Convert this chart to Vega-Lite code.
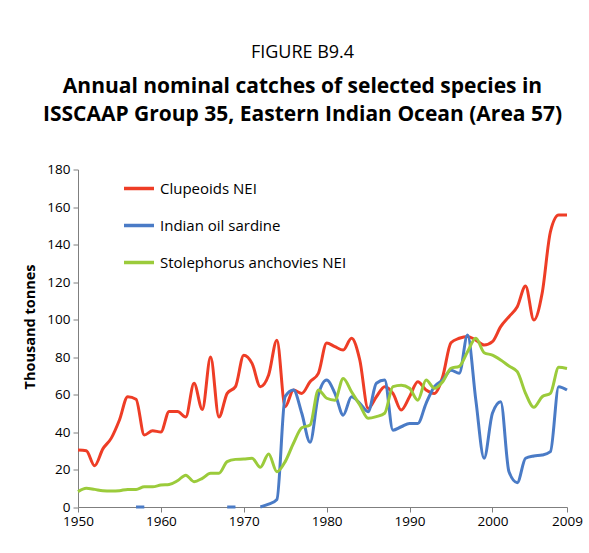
{
  "$schema": "https://vega.github.io/schema/vega-lite/v6.json",
  "width": 489,
  "height": 337.5,
  "autosize": {"type": "none"},
  "padding": {"left": 78, "top": 169.5, "right": 22, "bottom": 46},
  "background": "white",
  "title": {
    "text": "FIGURE B9.4",
    "subtitle": ["Annual nominal catches of selected species in", "ISSCAAP Group 35, Eastern Indian Ocean (Area 57)"],
    "anchor": "middle",
    "frame": "group",
    "dx": -20,
    "offset": 38,
    "font": "Open Sans",
    "fontSize": 18,
    "fontWeight": "normal",
    "color": "black",
    "subtitleFont": "Open Sans",
    "subtitleFontSize": 21,
    "subtitleFontWeight": "bold",
    "subtitleColor": "black",
    "subtitlePadding": 14,
    "subtitleLineHeight": 28
  },
  "data": {"values": [
    {"year":1950,"series":"Clupeoids NEI","value":30.4},{"year":1951,"series":"Clupeoids NEI","value":30},{"year":1952,"series":"Clupeoids NEI","value":22},{"year":1953,"series":"Clupeoids NEI","value":31},{"year":1954,"series":"Clupeoids NEI","value":36.6},{"year":1955,"series":"Clupeoids NEI","value":46.4},{"year":1956,"series":"Clupeoids NEI","value":58.8},{"year":1957,"series":"Clupeoids NEI","value":57.5},{"year":1958,"series":"Clupeoids NEI","value":38.4},{"year":1959,"series":"Clupeoids NEI","value":40.7},
    {"year":1960,"series":"Clupeoids NEI","value":40},{"year":1961,"series":"Clupeoids NEI","value":51},{"year":1962,"series":"Clupeoids NEI","value":51},{"year":1963,"series":"Clupeoids NEI","value":48},{"year":1964,"series":"Clupeoids NEI","value":66},{"year":1965,"series":"Clupeoids NEI","value":52},{"year":1966,"series":"Clupeoids NEI","value":80},{"year":1967,"series":"Clupeoids NEI","value":48},{"year":1968,"series":"Clupeoids NEI","value":60.6},{"year":1969,"series":"Clupeoids NEI","value":64.2},
    {"year":1970,"series":"Clupeoids NEI","value":81},{"year":1971,"series":"Clupeoids NEI","value":76.6},{"year":1972,"series":"Clupeoids NEI","value":64.2},{"year":1973,"series":"Clupeoids NEI","value":70.4},{"year":1974,"series":"Clupeoids NEI","value":89},{"year":1975,"series":"Clupeoids NEI","value":53.5},{"year":1976,"series":"Clupeoids NEI","value":62.4},{"year":1977,"series":"Clupeoids NEI","value":60.6},{"year":1978,"series":"Clupeoids NEI","value":66.8},{"year":1979,"series":"Clupeoids NEI","value":71.3},
    {"year":1980,"series":"Clupeoids NEI","value":87.5},{"year":1981,"series":"Clupeoids NEI","value":85.5},{"year":1982,"series":"Clupeoids NEI","value":83.7},{"year":1983,"series":"Clupeoids NEI","value":90},{"year":1984,"series":"Clupeoids NEI","value":78.4},{"year":1985,"series":"Clupeoids NEI","value":52.6},{"year":1986,"series":"Clupeoids NEI","value":58.8},{"year":1987,"series":"Clupeoids NEI","value":64.2},{"year":1988,"series":"Clupeoids NEI","value":60.6},{"year":1989,"series":"Clupeoids NEI","value":51.7},
    {"year":1990,"series":"Clupeoids NEI","value":58.8},{"year":1991,"series":"Clupeoids NEI","value":66.8},{"year":1992,"series":"Clupeoids NEI","value":62.4},{"year":1993,"series":"Clupeoids NEI","value":60.6},{"year":1994,"series":"Clupeoids NEI","value":69.5},{"year":1995,"series":"Clupeoids NEI","value":87.6},{"year":1996,"series":"Clupeoids NEI","value":90},{"year":1997,"series":"Clupeoids NEI","value":91},{"year":1998,"series":"Clupeoids NEI","value":89},{"year":1999,"series":"Clupeoids NEI","value":86.4},
    {"year":2000,"series":"Clupeoids NEI","value":88.2},{"year":2001,"series":"Clupeoids NEI","value":96.2},{"year":2002,"series":"Clupeoids NEI","value":101.5},{"year":2003,"series":"Clupeoids NEI","value":106.8},{"year":2004,"series":"Clupeoids NEI","value":117.9},{"year":2005,"series":"Clupeoids NEI","value":99.7},{"year":2006,"series":"Clupeoids NEI","value":114},{"year":2007,"series":"Clupeoids NEI","value":146.8},{"year":2008,"series":"Clupeoids NEI","value":155.7},{"year":2009,"series":"Clupeoids NEI","value":155.7},

    {"year":1956,"series":"Indian oil sardine","value":null},{"year":1957,"series":"Indian oil sardine","value":0},{"year":1958,"series":"Indian oil sardine","value":0},{"year":1959,"series":"Indian oil sardine","value":null},
    {"year":1967,"series":"Indian oil sardine","value":null},{"year":1968,"series":"Indian oil sardine","value":0},{"year":1969,"series":"Indian oil sardine","value":0},{"year":1970,"series":"Indian oil sardine","value":null},
    {"year":1972,"series":"Indian oil sardine","value":0},{"year":1973,"series":"Indian oil sardine","value":1.5},{"year":1974,"series":"Indian oil sardine","value":4},{"year":1975,"series":"Indian oil sardine","value":59},{"year":1976,"series":"Indian oil sardine","value":62.4},{"year":1977,"series":"Indian oil sardine","value":50},{"year":1978,"series":"Indian oil sardine","value":34.5},{"year":1979,"series":"Indian oil sardine","value":59.7},
    {"year":1980,"series":"Indian oil sardine","value":67.7},{"year":1981,"series":"Indian oil sardine","value":60.6},{"year":1982,"series":"Indian oil sardine","value":49},{"year":1983,"series":"Indian oil sardine","value":58.8},{"year":1984,"series":"Indian oil sardine","value":55.3},{"year":1985,"series":"Indian oil sardine","value":50.8},{"year":1986,"series":"Indian oil sardine","value":66},{"year":1987,"series":"Indian oil sardine","value":67.7},{"year":1988,"series":"Indian oil sardine","value":41},{"year":1989,"series":"Indian oil sardine","value":42.8},
    {"year":1990,"series":"Indian oil sardine","value":44.6},{"year":1991,"series":"Indian oil sardine","value":44.6},{"year":1992,"series":"Indian oil sardine","value":55.3},{"year":1993,"series":"Indian oil sardine","value":64.2},{"year":1994,"series":"Indian oil sardine","value":67.7},{"year":1995,"series":"Indian oil sardine","value":73},{"year":1996,"series":"Indian oil sardine","value":71.3},{"year":1997,"series":"Indian oil sardine","value":91.7},{"year":1998,"series":"Indian oil sardine","value":57},{"year":1999,"series":"Indian oil sardine","value":26},
    {"year":2000,"series":"Indian oil sardine","value":50},{"year":2001,"series":"Indian oil sardine","value":56.2},{"year":2002,"series":"Indian oil sardine","value":18.8},{"year":2003,"series":"Indian oil sardine","value":13},{"year":2004,"series":"Indian oil sardine","value":26},{"year":2005,"series":"Indian oil sardine","value":27.2},{"year":2006,"series":"Indian oil sardine","value":27.7},{"year":2007,"series":"Indian oil sardine","value":29.5},{"year":2008,"series":"Indian oil sardine","value":64.2},{"year":2009,"series":"Indian oil sardine","value":62.4},

    {"year":1950,"series":"Stolephorus anchovies NEI","value":8.2},{"year":1951,"series":"Stolephorus anchovies NEI","value":10},{"year":1952,"series":"Stolephorus anchovies NEI","value":9.4},{"year":1953,"series":"Stolephorus anchovies NEI","value":8.7},{"year":1954,"series":"Stolephorus anchovies NEI","value":8.5},{"year":1955,"series":"Stolephorus anchovies NEI","value":8.7},{"year":1956,"series":"Stolephorus anchovies NEI","value":9.4},{"year":1957,"series":"Stolephorus anchovies NEI","value":9.4},{"year":1958,"series":"Stolephorus anchovies NEI","value":10.8},{"year":1959,"series":"Stolephorus anchovies NEI","value":10.8},
    {"year":1960,"series":"Stolephorus anchovies NEI","value":11.7},{"year":1961,"series":"Stolephorus anchovies NEI","value":12},{"year":1962,"series":"Stolephorus anchovies NEI","value":14},{"year":1963,"series":"Stolephorus anchovies NEI","value":17},{"year":1964,"series":"Stolephorus anchovies NEI","value":13.5},{"year":1965,"series":"Stolephorus anchovies NEI","value":15.3},{"year":1966,"series":"Stolephorus anchovies NEI","value":18},{"year":1967,"series":"Stolephorus anchovies NEI","value":18},{"year":1968,"series":"Stolephorus anchovies NEI","value":24.2},{"year":1969,"series":"Stolephorus anchovies NEI","value":25.4},
    {"year":1970,"series":"Stolephorus anchovies NEI","value":25.6},{"year":1971,"series":"Stolephorus anchovies NEI","value":26},{"year":1972,"series":"Stolephorus anchovies NEI","value":21.2},{"year":1973,"series":"Stolephorus anchovies NEI","value":28.3},{"year":1974,"series":"Stolephorus anchovies NEI","value":18.8},{"year":1975,"series":"Stolephorus anchovies NEI","value":24.2},{"year":1976,"series":"Stolephorus anchovies NEI","value":34},{"year":1977,"series":"Stolephorus anchovies NEI","value":42.3},{"year":1978,"series":"Stolephorus anchovies NEI","value":43.7},{"year":1979,"series":"Stolephorus anchovies NEI","value":62.4},
    {"year":1980,"series":"Stolephorus anchovies NEI","value":58},{"year":1981,"series":"Stolephorus anchovies NEI","value":57},{"year":1982,"series":"Stolephorus anchovies NEI","value":68.6},{"year":1983,"series":"Stolephorus anchovies NEI","value":61.5},{"year":1984,"series":"Stolephorus anchovies NEI","value":54.4},{"year":1985,"series":"Stolephorus anchovies NEI","value":47.3},{"year":1986,"series":"Stolephorus anchovies NEI","value":48.2},{"year":1987,"series":"Stolephorus anchovies NEI","value":50},{"year":1988,"series":"Stolephorus anchovies NEI","value":64.2},{"year":1989,"series":"Stolephorus anchovies NEI","value":65},
    {"year":1990,"series":"Stolephorus anchovies NEI","value":63.3},{"year":1991,"series":"Stolephorus anchovies NEI","value":57},{"year":1992,"series":"Stolephorus anchovies NEI","value":67.7},{"year":1993,"series":"Stolephorus anchovies NEI","value":63.3},{"year":1994,"series":"Stolephorus anchovies NEI","value":66.8},{"year":1995,"series":"Stolephorus anchovies NEI","value":74},{"year":1996,"series":"Stolephorus anchovies NEI","value":75},{"year":1997,"series":"Stolephorus anchovies NEI","value":82.8},{"year":1998,"series":"Stolephorus anchovies NEI","value":90},{"year":1999,"series":"Stolephorus anchovies NEI","value":82.3},
    {"year":2000,"series":"Stolephorus anchovies NEI","value":81},{"year":2001,"series":"Stolephorus anchovies NEI","value":78.4},{"year":2002,"series":"Stolephorus anchovies NEI","value":75.2},{"year":2003,"series":"Stolephorus anchovies NEI","value":72.2},{"year":2004,"series":"Stolephorus anchovies NEI","value":60.6},{"year":2005,"series":"Stolephorus anchovies NEI","value":53.2},{"year":2006,"series":"Stolephorus anchovies NEI","value":58.8},{"year":2007,"series":"Stolephorus anchovies NEI","value":60.6},{"year":2008,"series":"Stolephorus anchovies NEI","value":74.5},{"year":2009,"series":"Stolephorus anchovies NEI","value":73.9}
  ]},
  "mark": {"type": "line", "interpolate": "monotone", "strokeWidth": 3, "invalid": "break-paths-show-domains"},
  "encoding": {
    "x": {
      "field": "year", "type": "quantitative",
      "scale": {"domain": [1950, 2009], "nice": false, "zero": false},
      "axis": {
        "values": [1950, 1960, 1970, 1980, 1990, 2000, 2009],
        "format": "d", "title": null, "grid": false,
        "labelFont": "Open Sans", "labelFontSize": 13.5, "labelColor": "black",
        "domainColor": "#7f7f7f", "tickColor": "#7f7f7f", "tickSize": 5,
        "labelPadding": 2, "labelFlush": false
      }
    },
    "y": {
      "field": "value", "type": "quantitative",
      "scale": {"domain": [0, 180], "nice": false},
      "axis": {
        "values": [0, 20, 40, 60, 80, 100, 120, 140, 160, 180],
        "title": "Thousand tonnes", "grid": false,
        "titleFont": "Open Sans", "titleFontSize": 14.5, "titleFontWeight": "bold", "titleColor": "black",
        "titlePadding": 9, "titleY": 157,
        "labelFont": "Open Sans", "labelFontSize": 13.5, "labelColor": "black",
        "domainColor": "#7f7f7f", "tickColor": "#7f7f7f", "tickSize": 5, "labelPadding": 3
      }
    },
    "color": {
      "field": "series", "type": "nominal",
      "scale": {"domain": ["Clupeoids NEI", "Indian oil sardine", "Stolephorus anchovies NEI"], "range": ["#EE3D26", "#4A7BC6", "#9BCB3B"]},
      "legend": {
        "title": null, "orient": "none", "legendX": 44, "legendY": 2,
        "symbolType": "stroke", "symbolSize": 900, "symbolStrokeWidth": 3.5,
        "labelFont": "Open Sans", "labelFontSize": 15, "labelColor": "black", "labelLimit": 0,
        "labelOffset": 4, "rowPadding": 12
      }
    }
  },
  "config": {"view": {"stroke": null}}
}
